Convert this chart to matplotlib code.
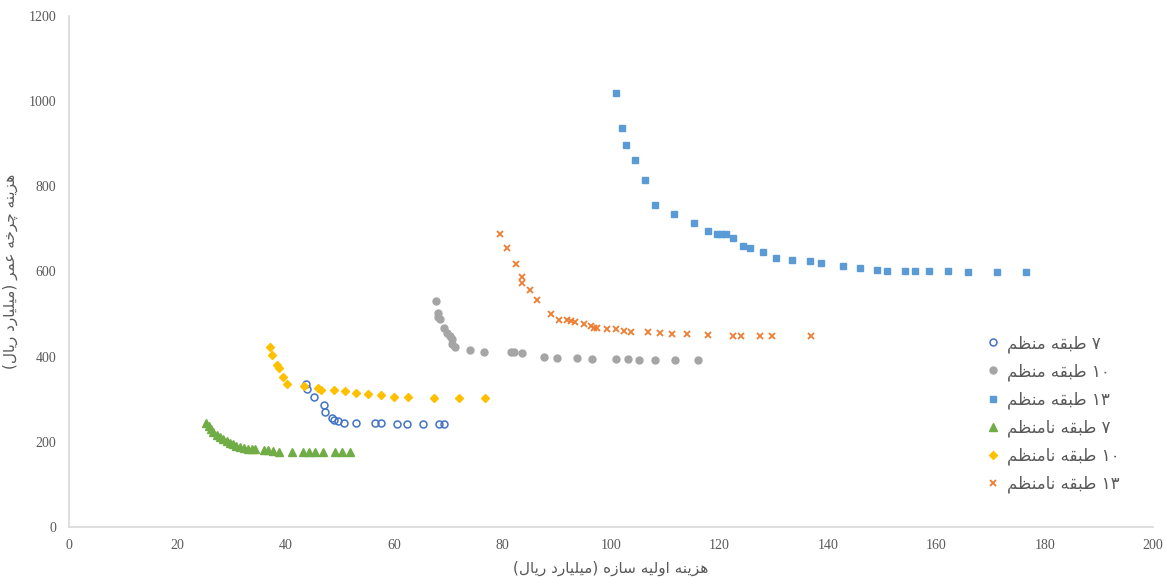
import matplotlib
matplotlib.use("Agg")
import matplotlib.pyplot as plt

# ---- data ----
x_7_reg = [43.7, 44.0, 45.2, 47.0, 47.2, 48.5, 48.8, 49.6, 50.7, 52.9, 56.5, 57.5, 60.5, 62.4, 65.3, 68.2, 69.2]
y_7_reg = [335, 323, 305, 286, 270, 255, 251, 250, 245, 244, 244, 244, 241, 241, 241, 241, 241]

x_10_reg = [67.7, 68.1, 68.1, 68.5, 69.2, 69.8, 70.2, 70.6, 70.6, 71.3, 74.0, 76.6, 81.5, 82.1, 83.6,
            87.6, 90.0, 93.7, 96.5, 101.0, 103.1, 105.2, 108.2, 111.8, 116.0]
y_10_reg = [531, 502, 494, 488, 467, 455, 449, 441, 429, 423, 416, 412, 411, 410, 408,
            400, 396, 396, 394, 394, 394, 393, 393, 393, 392]

x_13_reg = [100.9, 102.0, 102.7, 104.5, 106.3, 108.2, 111.7, 115.3, 117.8, 119.5, 120.2, 121.2, 122.5,
            124.3, 125.6, 128.0, 130.4, 133.3, 136.7, 138.7, 142.7, 145.9, 149.1, 151.0, 154.2, 156.0,
            158.6, 162.1, 165.8, 171.2, 176.5]
y_13_reg = [1020, 938, 897, 861, 816, 755, 734, 714, 694, 689, 687, 687, 679,
            661, 655, 646, 632, 628, 624, 620, 612, 608, 603, 602, 602, 600,
            600, 600, 599, 598, 599]

x_7_irr = [25.2, 25.8, 26.2, 26.6, 27.25, 27.9, 28.5, 29.1, 29.7, 30.3, 30.9, 31.5, 32.3, 33.0, 33.7, 34.3,
           35.9, 36.8, 37.7, 38.8, 41.1, 43.2, 44.3, 45.4, 46.8, 49.1, 50.4, 51.8]
y_7_irr = [245, 237, 231, 224, 216, 211, 206, 202, 198, 195, 191, 187, 185, 182, 182, 182,
           181, 181, 179, 177, 175, 175, 175, 175, 175, 175, 175, 175]

x_10_irr = [37.0, 37.5, 38.4, 38.8, 39.4, 40.3, 43.4, 46.0, 46.5, 48.8, 50.9, 52.9, 55.2, 57.6, 60.0,
            62.5, 67.3, 72.0, 76.8]
y_10_irr = [422, 403, 380, 373, 353, 335, 330, 326, 322, 322, 319, 315, 312, 309, 306,
            305, 302, 302, 302]

x_13_irr = [79.5, 80.8, 82.5, 83.6, 83.6, 85.1, 86.3, 89.0, 90.4, 91.9, 92.6, 93.4, 95.1, 96.3, 96.9, 97.5,
            99.2, 101.0, 102.3, 103.7, 106.8, 109.0, 111.3, 114.0, 117.9, 122.5, 124.0, 127.5, 129.7, 136.9]
y_13_irr = [687, 654, 618, 588, 572, 557, 533, 500, 487, 485, 483, 482, 476, 472, 468, 468,
            465, 464, 460, 457, 457, 456, 453, 453, 452, 449, 449, 449, 449, 449]

labels = ["۷ طبقه منظم", "۱۰ طبقه منظم", "۱۳ طبقه منظم",
          "۷ طبقه نامنظم", "۱۰ طبقه نامنظم", "۱۳ طبقه نامنظم"]
xlabel = "هزینه اولیه سازه (میلیارد ریال)"
ylabel = "هزینه چرخه عمر (میلیارد ریال)"

# ---- minimal arabic/persian shaping (matplotlib does not shape RTL text) ----
# letter: (isolated, final, initial, medial); None for right-joining letters
FORMS = {
    'ا': ('\uFE8D', '\uFE8E', None, None),
    'ب': ('\uFE8F', '\uFE90', '\uFE91', '\uFE92'),
    'خ': ('\uFEA5', '\uFEA6', '\uFEA7', '\uFEA8'),
    'د': ('\uFEA9', '\uFEAA', None, None),
    'ر': ('\uFEAD', '\uFEAE', None, None),
    'ز': ('\uFEAF', '\uFEB0', None, None),
    'س': ('\uFEB1', '\uFEB2', '\uFEB3', '\uFEB4'),
    'ط': ('\uFEC1', '\uFEC2', '\uFEC3', '\uFEC4'),
    'ظ': ('\uFEC5', '\uFEC6', '\uFEC7', '\uFEC8'),
    'ع': ('\uFEC9', '\uFECA', '\uFECB', '\uFECC'),
    'ق': ('\uFED5', '\uFED6', '\uFED7', '\uFED8'),
    'ل': ('\uFEDD', '\uFEDE', '\uFEDF', '\uFEE0'),
    'م': ('\uFEE1', '\uFEE2', '\uFEE3', '\uFEE4'),
    'ن': ('\uFEE5', '\uFEE6', '\uFEE7', '\uFEE8'),
    'ه': ('\uFEE9', '\uFEEA', '\uFEEB', '\uFEEC'),
    'و': ('\uFEED', '\uFEEE', None, None),
    'چ': ('\uFB7A', '\uFB7B', '\uFB7C', '\uFB7D'),
    'ی': ('\uFBFC', '\uFBFD', '\uFBFE', '\uFBFF'),
}


def dual(c):
    return c in FORMS and FORMS[c][2] is not None


def shape(s):
    out = []
    for i, c in enumerate(s):
        if c not in FORMS:
            out.append(c)
            continue
        prev_j = i > 0 and dual(s[i - 1])
        next_j = dual(c) and i + 1 < len(s) and s[i + 1] in FORMS
        f = FORMS[c]
        if prev_j and next_j:
            out.append(f[3])
        elif prev_j:
            out.append(f[1])
        elif next_j:
            out.append(f[2])
        else:
            out.append(f[0])
    shaped = "".join(out)
    # visual order: reverse, keep digit runs left-to-right, mirror brackets
    tokens, cur, cur_dig = [], "", None
    for c in shaped:
        d = c.isdigit()
        if cur and d != cur_dig:
            tokens.append((cur, cur_dig))
            cur = ""
        cur += c
        cur_dig = d
    if cur:
        tokens.append((cur, cur_dig))
    mirror = {'(': ')', ')': '('}
    vis = ""
    for t, d in reversed(tokens):
        vis += t if d else "".join(mirror.get(ch, ch) for ch in reversed(t))
    return vis


plt.rcParams['font.family'] = ['DejaVu Sans']

fig = plt.figure(figsize=(11.67, 5.77), dpi=100)
ax = fig.add_axes([0.0591, 0.0867, 0.929, 0.8856])

ms = 5
ax.plot(x_7_reg, y_7_reg, 'o', mfc='none', mec='#4472C4', mew=1.1, ms=ms, label=shape(labels[0]))
ax.plot(x_10_reg, y_10_reg, 'o', color='#A5A5A5', ms=ms, label=shape(labels[1]))
ax.plot(x_13_reg, y_13_reg, 's', color='#5B9BD5', ms=ms, label=shape(labels[2]))
ax.plot(x_7_irr, y_7_irr, '^', color='#70AD47', ms=ms + 0.5, label=shape(labels[3]))
ax.plot(x_10_irr, y_10_irr, 'D', color='#FFC000', ms=ms - 0.5, label=shape(labels[4]))
ax.plot(x_13_irr, y_13_irr, 'x', color='#ED7D31', mew=1.3, ms=ms - 0.5, label=shape(labels[5]))

ax.set_xlim(0, 200)
ax.set_ylim(0, 1200)
ax.set_xticks(range(0, 201, 20))
ax.set_yticks(range(0, 1201, 200))
for side in ['top', 'right']:
    ax.spines[side].set_visible(False)
for side in ['left', 'bottom']:
    ax.spines[side].set_color('#D9D9D9')
    ax.spines[side].set_linewidth(1.2)
ax.tick_params(length=0, colors='#595959', labelsize=10, pad=9)
for t in ax.get_xticklabels() + ax.get_yticklabels():
    t.set_family('Liberation Serif')

ax.set_xlabel(shape(xlabel), fontsize=11, color='#595959')
ax.set_ylabel(shape(ylabel), fontsize=11, color='#595959')
ax.xaxis.set_label_coords(0.5, -0.067)
ax.yaxis.set_label_coords(-0.047, 0.5)

leg = ax.legend(loc='upper left', bbox_to_anchor=(970 / 1167, 1 - 319 / 577),
                bbox_transform=fig.transFigure, frameon=False, fontsize=12,
                labelspacing=0.58, handletextpad=0.3, handlelength=1.0)
for t in leg.get_texts():
    t.set_color('#595959')

fig.savefig('out.png', dpi=100)
